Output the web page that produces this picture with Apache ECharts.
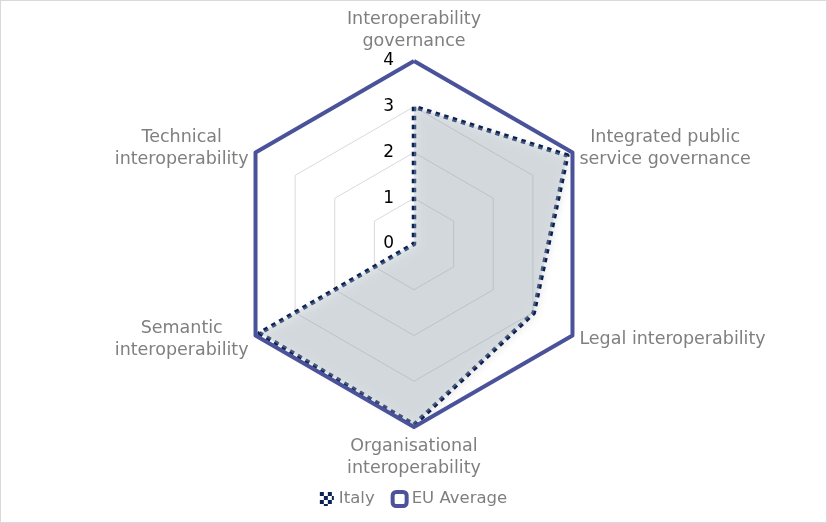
<!DOCTYPE html>
<html>
<head>
<meta charset="utf-8">
<script src="https://cdn.jsdelivr.net/npm/echarts@6/dist/echarts.min.js"></script>
<style>
html,body{margin:0;padding:0;background:#fff;}
#c{width:827px;height:523px;box-sizing:border-box;border:1px solid #d9d9d9;}
</style>
</head>
<body>
<div id="c"></div>
<script>
// Indicators in ECharts order (counter-clockwise from top)
const categories = [
  "Interoperability\ngovernance",
  "Technical\ninteroperability",
  "Semantic\ninteroperability",
  "Organisational\ninteroperability",
  "Legal interoperability",
  "Integrated public\nservice governance"
];
const italyValues = [3.0, 0.0, 3.9, 3.95, 3.02, 3.87];
const euValues = [4, 4, 4, 4, 4, 4];
const maxValue = 4;
const seriesNames = ["Italy", "EU Average"];

const chart = echarts.init(document.getElementById('c'));
const indicator = categories.map((n, i) => {
  const o = { name: n, max: maxValue, min: 0 };
  if (i === 0) o.axisLabel = { show: true };
  return o;
});
const FS = 17.5;
chart.setOption({
  animation: false,
  legend: {
    bottom: 9,
    left: 'center',
    itemWidth: 14,
    itemHeight: 14,
    itemGap: 16,
    textStyle: { color: '#7f7f7f', fontSize: 16.5, fontFamily: 'DejaVu Sans' },
    data: [
      { name: seriesNames[0], icon: 'path://M0,0h4v4h-4zM8,0h4v4h-4zM4,4h4v4h-4zM12,4h2v4h-2zM0,8h4v4h-4zM8,8h4v4h-4zM4,12h4v2h-4z', itemStyle: { color: '#0c2257' } },
      { name: seriesNames[1], icon: 'roundRect', itemStyle: { color: '#fff', borderColor: '#4a529a', borderWidth: 4 } }
    ]
  },
  radar: {
    center: [413, 243],
    radius: 183,
    startAngle: 90,
    splitNumber: 4,
    shape: 'polygon',
    indicator: indicator,
    axisName: {
      color: '#7f7f7f',
      fontSize: FS,
      fontFamily: 'DejaVu Sans',
      lineHeight: 22,
      formatter: function (v) {
        return v.split('\n').map(s => '{c|' + s + '}').join('\n');
      },
      rich: { c: { align: 'center', color: '#7f7f7f', fontSize: FS, fontFamily: 'DejaVu Sans', lineHeight: 22 } }
    },
    nameGap: 8,
    axisLine: { show: false },
    axisTick: { show: false },
    splitArea: { show: false },
    splitLine: { lineStyle: { color: '#d9d9d9', width: 1 } },
    axisLabel: { show: false, color: '#000', fontSize: 17, fontFamily: 'DejaVu Sans', margin: 20 }
  },
  series: [{
    type: 'radar',
    symbol: 'none',
    data: [
      {
        name: seriesNames[0],
        value: italyValues,
        lineStyle: { color: '#0c2257', width: 4.5, type: [4.5, 4.5] },
        itemStyle: { color: '#0c2257' },
        areaStyle: { color: 'rgba(175,190,200,0.5)', shadowBlur: 8, shadowColor: 'rgba(0,0,0,0.28)', shadowOffsetX: 2, shadowOffsetY: 2 }
      },
      {
        name: seriesNames[1],
        value: euValues,
        lineStyle: { color: '#4a529a', width: 4 },
        itemStyle: { color: '#fff', borderColor: '#4a529a', borderWidth: 4 }
      }
    ]
  }]
});
</script>
</body>
</html>
